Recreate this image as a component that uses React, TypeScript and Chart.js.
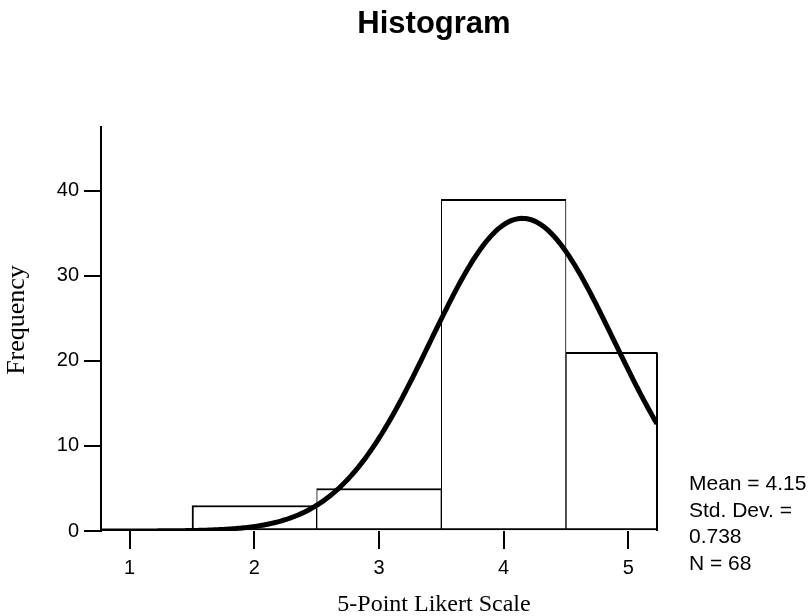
import React, { useEffect, useRef } from "react";
import { Chart, registerables } from "chart.js";

Chart.register(...registerables);

// Histogram bins (bin centres on the 5-point scale) and their frequencies
const binCenters = [1, 2, 3, 4, 5];
const frequencies = [0, 3, 5, 39, 21];
const BIN_WIDTH = 1;

// Summary statistics shown beside the plot; the normal curve is drawn from them
const MEAN = 4.15;
const STD_DEV = 0.738;
const N = 68;
const statLines = ["Mean = 4.15", "Std. Dev. =", "0.738", "N = 68"];

// Axis ranges
const X_MIN = 0.77;
const X_MAX = 5.23;
const Y_MAX = 47.5;
const yTickValues = [0, 10, 20, 30, 40];
const xTickValues = [1, 2, 3, 4, 5];

const TITLE = "Histogram";
const X_TITLE = "5-Point Likert Scale";
const Y_TITLE = "Frequency";

const SANS = "'Liberation Sans', Arial, sans-serif";
const SERIF = "'Liberation Serif', 'Times New Roman', serif";

// Expected frequency of the fitted normal distribution at x
function normalFrequency(x: number): number {
  const z = (x - MEAN) / STD_DEV;
  return (N * BIN_WIDTH * Math.exp(-0.5 * z * z)) / (STD_DEV * Math.sqrt(2 * Math.PI));
}

function normalCurvePoints() {
  const pts: { x: number; y: number }[] = [];
  const steps = 300;
  for (let i = 0; i <= steps; i++) {
    const x = X_MIN + ((X_MAX - X_MIN) * i) / steps;
    pts.push({ x, y: normalFrequency(x) });
  }
  return pts;
}

// Bars draw their border inside their box, so neighbouring bars share a
// 1 + 1 px edge while free-standing edges get the full 2 px.
function barBorder(ctx: any) {
  const i = ctx.dataIndex;
  const prev = i > 0 ? frequencies[i - 1] : 0;
  const next = i < frequencies.length - 1 ? frequencies[i + 1] : 0;
  return { top: 2, bottom: 2, left: prev > 0 ? 1 : 2, right: next > 0 ? 1 : 2 };
}

// Draws the heading, both axis captions and the statistics block
const annotationText = {
  id: "annotationText",
  afterDraw(chart: any) {
    const { ctx, chartArea } = chart;
    const centerX = chartArea.left + 333;
    ctx.save();
    ctx.fillStyle = "#000";
    ctx.textAlign = "center";
    ctx.textBaseline = "alphabetic";
    ctx.font = `bold 31px ${SANS}`;
    ctx.fillText(TITLE, centerX, 33);

    ctx.font = `24px ${SERIF}`;
    ctx.fillText(X_TITLE, centerX, chartArea.bottom + 80);

    // vertical caption, read bottom to top
    ctx.save();
    ctx.translate(17, chartArea.top + 193);
    ctx.rotate(-Math.PI / 2);
    ctx.textBaseline = "middle";
    ctx.font = `26px ${SERIF}`;
    ctx.fillText(Y_TITLE, 0, 0);
    ctx.restore();

    ctx.textAlign = "left";
    ctx.font = `21px ${SANS}`;
    const sx = chartArea.right + 32;
    const baseY = chartArea.bottom - 41;
    statLines.forEach((line, i) => {
      ctx.fillText(line, sx, baseY + i * 26.7);
    });
    ctx.restore();
  },
};

export default function App() {
  const canvasRef = useRef<HTMLCanvasElement | null>(null);

  useEffect(() => {
    if (!canvasRef.current) return;
    const chart = new Chart(canvasRef.current, {
      type: "bar",
      data: {
        datasets: [
          {
            type: "line",
            label: "Normal",
            data: normalCurvePoints(),
            borderColor: "#000",
            borderWidth: 5,
            pointRadius: 0,
            tension: 0,
            fill: false,
            order: 0,
          } as any,
          {
            type: "line",
            label: "Edge",
            data: [
              { x: X_MAX, y: 0 },
              { x: X_MAX, y: frequencies[frequencies.length - 1] },
            ],
            borderColor: "#000",
            borderWidth: 2,
            pointRadius: 0,
            fill: false,
            clip: false,
            order: 1,
          } as any,
          {
            type: "bar",
            label: "Frequency",
            data: binCenters.map((x, i) => ({ x, y: frequencies[i] })),
            backgroundColor: "#fff",
            borderColor: "#000",
            borderWidth: barBorder,
            borderSkipped: false,
            barPercentage: 1,
            categoryPercentage: 1,
            clip: 0,
            order: 2,
          } as any,
        ],
      },
      options: {
        animation: false,
        responsive: true,
        maintainAspectRatio: false,
        layout: { padding: { top: 127, right: 154, left: 0, bottom: 0 } },
        plugins: {
          legend: { display: false },
          tooltip: { enabled: false },
          title: { display: false },
        },
        scales: {
          x: {
            type: "linear",
            min: X_MIN,
            max: X_MAX,
            offset: false,
            afterFit: (s: any) => {
              s.height = 85;
            },
            afterBuildTicks: (s: any) => {
              s.ticks = xTickValues.map((v) => ({ value: v }));
            },
            border: { display: false },
            grid: {
              offset: false,
              drawOnChartArea: false,
              drawTicks: true,
              tickLength: 18,
              tickWidth: 2,
              tickColor: "#000",
              color: "#000",
              lineWidth: 2,
            },
            ticks: {
              color: "#000",
              padding: 7,
              font: { family: SANS, size: 20 },
            },
          },
          y: {
            min: 0,
            max: Y_MAX,
            afterFit: (s: any) => {
              s.width = 101;
            },
            afterBuildTicks: (s: any) => {
              s.ticks = yTickValues.map((v) => ({ value: v }));
            },
            border: { display: true, color: "#000", width: 2 },
            grid: {
              drawOnChartArea: false,
              drawTicks: true,
              tickLength: 17,
              tickWidth: 2,
              tickColor: "#000",
              color: "#000",
              lineWidth: 2,
            },
            ticks: {
              color: "#000",
              padding: 5,
              font: { family: SANS, size: 20 },
            },
          },
        },
      },
      plugins: [annotationText],
    });
    return () => chart.destroy();
  }, []);

  return (
    <div style={{ position: "fixed", left: 0, top: 0, width: 811, height: 616, background: "#fff" }}>
      <canvas ref={canvasRef} />
    </div>
  );
}
